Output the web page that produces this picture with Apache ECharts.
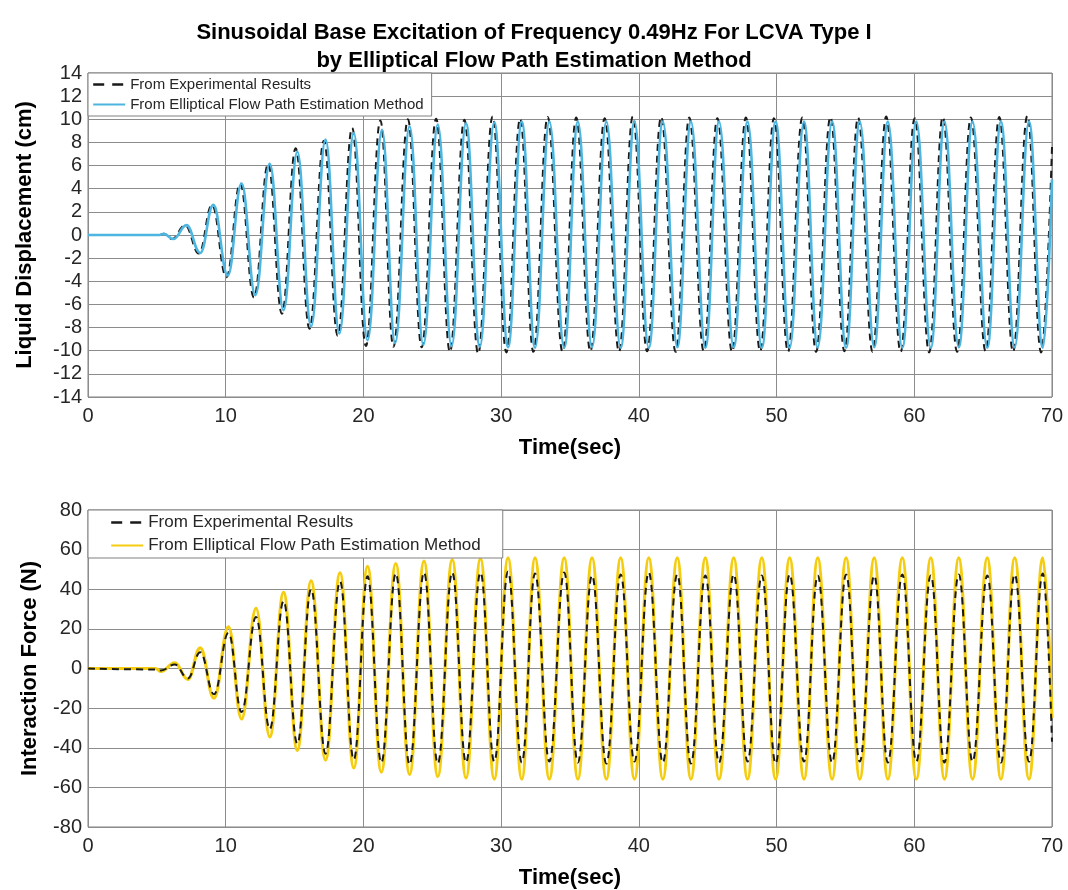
<!DOCTYPE html>
<html><head><meta charset="utf-8">
<script src="https://cdn.jsdelivr.net/npm/echarts@6/dist/echarts.min.js"></script>
<style>html,body{margin:0;padding:0;background:#fff}#c{width:1068px;height:890px}</style>
</head><body><div id="c"></div>
<script>
const chartTitle = 'Sinusoidal Base Excitation of Frequency 0.49Hz For LCVA Type I\nby Elliptical Flow Path Estimation Method';
const xName = 'Time(sec)';
const yNameTop = 'Liquid Displacement (cm)';
const yNameBottom = 'Interaction Force (N)';
const nameExp = 'From Experimental Results';
const nameEst = 'From Elliptical Flow Path Estimation Method';

// [time (s), displacement (cm)] extrema
const dispExp = [[0,0],[5.2,0],[5.5,0.1],[6.1,-0.35],[7.05,0.85],[8.05,-1.6],[9.0,2.6],[10.05,-3.65],[11.05,4.45],[12.05,-5.4],[13.08,6.15],[14.08,-6.8],[15.08,7.5],[16.08,-8.1],[17.13,8.15],[18.13,-8.7],[19.18,9.25],[20.18,-9.6],[21.23,9.9],[22.18,-9.65],[23.23,10.0],[24.23,-9.7],[25.28,10.05],[26.28,-10.1],[27.33,9.95],[28.33,-10.25],[29.38,10.25],[30.38,-10.15],[31.38,10.05],[32.34,-10.1],[33.38,10.2],[34.46,-10.1],[35.45,10.15],[36.48,-10.05],[37.52,10.1],[38.56,-10.1],[39.56,10.25],[40.6,-10.05],[41.62,10.2],[42.67,-10.1],[43.66,10.15],[44.71,-10.05],[45.7,10.1],[46.77,-10.1],[47.77,10.15],[48.81,-10.05],[49.81,10.1],[50.83,-10.1],[51.87,10.15],[52.87,-10.1],[53.91,10.2],[54.93,-10.05],[55.92,10.15],[56.97,-10.1],[57.96,10.25],[59.01,-10.1],[60.03,10.1],[61.08,-10.15],[62.07,10.2],[63.11,-10.1],[64.11,10.15],[65.18,-10.05],[66.17,10.2],[67.17,-10.1],[68.21,10.3],[69.21,-10.15],[70,7.6]];
const dispEst = [[0,0],[5.2,0],[5.5,0.1],[6.2,-0.35],[7.15,0.85],[8.15,-1.55],[9.1,2.6],[10.15,-3.5],[11.15,4.45],[12.15,-5.2],[13.2,6.15],[14.2,-6.5],[15.2,7.2],[16.2,-7.9],[17.25,8.25],[18.25,-8.5],[19.3,8.8],[20.3,-9.1],[21.35,9.1],[22.3,-9.35],[23.35,9.4],[24.35,-9.5],[25.4,9.55],[26.4,-9.6],[27.45,9.65],[28.45,-9.65],[29.5,9.75],[30.5,-9.7],[31.5,9.8],[32.46,-9.75],[33.5,9.8],[34.58,-9.75],[35.57,9.8],[36.6,-9.7],[37.64,9.8],[38.68,-9.75],[39.68,9.8],[40.72,-9.75],[41.74,9.8],[42.79,-9.7],[43.78,9.8],[44.83,-9.75],[45.82,9.8],[46.89,-9.7],[47.89,9.8],[48.93,-9.75],[49.93,9.8],[50.95,-9.75],[51.99,9.8],[52.99,-9.7],[54.03,9.8],[55.05,-9.75],[56.04,9.8],[57.09,-9.7],[58.08,9.8],[59.13,-9.75],[60.15,9.8],[61.2,-9.75],[62.19,9.8],[63.23,-9.7],[64.23,9.8],[65.3,-9.75],[66.29,9.8],[67.29,-9.7],[68.33,9.8],[69.33,-9.75],[70,4.8]];

// [time (s), force (N)] extrema
const forceExp = [[0,0],[4.9,-0.5],[5.3,-1],[6.3,2],[7.25,-5],[8.15,8.2],[9.15,-13],[10.2,18],[11.15,-22],[12.2,26],[13.2,-30.5],[14.2,34],[15.2,-38],[16.2,40],[17.25,-43],[18.3,44],[19.3,-46],[20.3,46.5],[21.3,-47.5],[22.35,48],[23.35,-48.5],[24.4,48.5],[25.4,-48],[26.45,48.5],[27.45,-47.5],[28.5,48.5],[29.5,-47],[30.5,49],[31.5,-47.5],[32.46,48],[33.5,-47],[34.58,48.5],[35.57,-47.5],[36.6,47],[37.64,-48],[38.68,47.5],[39.68,-47],[40.72,48.5],[41.74,-47.5],[42.79,47.5],[43.78,-48],[44.83,47],[45.82,-47.5],[46.89,47.5],[47.89,-47],[48.93,47],[49.93,-48],[50.95,47.5],[51.99,-47],[52.99,47],[54.03,-47.5],[55.05,47.5],[56.04,-47],[57.09,47],[58.08,-47.5],[59.13,47.5],[60.15,-47],[61.2,47],[62.19,-47.5],[63.23,47.5],[64.23,-47],[65.3,47],[66.29,-47.5],[67.29,47.5],[68.33,-47],[69.33,48],[70,-37]];
const forceEst = [[0,0],[4.9,0],[5.3,-1.5],[6.3,2.8],[7.25,-5.5],[8.15,10.4],[9.15,-15],[10.2,21],[11.15,-25.5],[12.2,30.3],[13.2,-34.5],[14.2,38.4],[15.2,-41.3],[16.2,44.2],[17.25,-46.2],[18.3,48.3],[19.3,-50.2],[20.3,51.5],[21.3,-52.3],[22.35,53],[23.35,-53.5],[24.4,54.2],[25.4,-54.5],[26.45,55],[27.45,-55.2],[28.5,55.5],[29.5,-55.8],[30.5,55.8],[31.5,-55.8],[32.46,55.8],[33.5,-55.8],[34.58,55.8],[35.57,-55.8],[36.6,55.8],[37.64,-55.8],[38.68,55.8],[39.68,-55.8],[40.72,55.8],[41.74,-55.8],[42.79,55.8],[43.78,-55.8],[44.83,55.8],[45.82,-55.8],[46.89,55.8],[47.89,-55.8],[48.93,55.8],[49.93,-55.8],[50.95,55.8],[51.99,-55.8],[52.99,55.8],[54.03,-55.8],[55.05,55.8],[56.04,-55.8],[57.09,55.8],[58.08,-55.8],[59.13,55.8],[60.15,-55.8],[61.2,55.8],[62.19,-55.8],[63.23,55.8],[64.23,-55.8],[65.3,55.8],[66.29,-55.8],[67.29,55.8],[68.33,-55.8],[69.33,55.8],[70,-25]];

const xRange = [0, 70, 10];
const yRangeTop = [-14, 14, 2];
const yRangeBottom = [-80, 80, 20];

const FONT = '"Liberation Sans", Arial, Helvetica, sans-serif';
const gridLine = { lineStyle: { color: '#8c8c8c', width: 1 } };
const tickLabel = { fontSize: 20, color: '#262626', fontFamily: FONT };
const nameStyle = { fontSize: 22, fontWeight: 'bold', color: '#000', fontFamily: FONT };

function xAxis(gi) {
  return {
    type: 'value', gridIndex: gi, min: xRange[0], max: xRange[1], interval: xRange[2],
    axisLine: { show: false }, axisTick: { show: false },
    splitLine: gridLine,
    axisLabel: Object.assign({ margin: 9 }, tickLabel),
    name: xName, nameLocation: 'middle', nameGap: 40, nameTextStyle: nameStyle
  };
}
function yAxis(gi, r, name, gap) {
  return {
    type: 'value', gridIndex: gi, min: r[0], max: r[1], interval: r[2],
    axisLine: { show: false }, axisTick: { show: false },
    splitLine: gridLine,
    axisLabel: Object.assign({ margin: 6 }, tickLabel),
    name: name, nameLocation: 'middle', nameGap: gap, nameRotate: 90, nameTextStyle: nameStyle
  };
}
function line(name, data, gi, color, width, dashed, z) {
  return {
    type: 'line', name: name, xAxisIndex: gi, yAxisIndex: gi, data: data,
    symbol: 'none', showSymbol: false, smooth: 0.42, smoothMonotone: 'x',
    lineStyle: { color: color, width: width, type: dashed ? [7, 5] : 'solid' },
    itemStyle: { color: color }, z: z, animation: false
  };
}
const legendCommon = {
  orient: 'vertical', left: 88,
  backgroundColor: '#fff', borderColor: '#808080', borderWidth: 1, borderRadius: 0,
  itemWidth: 32, itemStyle: { opacity: 0, borderWidth: 0 }
};
const legendDash = { type: [11, 8], width: 2.4 };

const chart = echarts.init(document.getElementById('c'), null, { renderer: 'canvas' });
chart.setOption({
  backgroundColor: '#fff',
  animation: false,
  title: {
    text: chartTitle, left: 'center', top: 14,
    textStyle: { fontSize: 22, fontWeight: 'bold', color: '#000', fontFamily: FONT, lineHeight: 28 }
  },
  grid: [
    { left: 88, right: 16, top: 73, height: 324, show: true, borderColor: '#808080', borderWidth: 1, backgroundColor: '#fff' },
    { left: 88, right: 16, top: 510, height: 323, show: true, borderColor: '#808080', borderWidth: 1, backgroundColor: '#fff' }
  ],
  legend: [
    Object.assign({}, legendCommon, {
      data: [{ name: nameExp, lineStyle: legendDash }, nameEst], top: 73,
      padding: [4, 8, 4, 4], itemGap: 5, itemHeight: 14,
      textStyle: { fontSize: 15, color: '#262626', fontFamily: FONT }
    }),
    Object.assign({}, legendCommon, {
      data: [{ name: nameExp + ' ', lineStyle: legendDash }, nameEst + ' '], top: 510,
      formatter: n => n.trim(),
      padding: [4, 22, 4, 22], itemGap: 6, itemHeight: 16,
      textStyle: { fontSize: 17, color: '#262626', fontFamily: FONT }
    })
  ],
  xAxis: [xAxis(0), xAxis(1)],
  yAxis: [yAxis(0, yRangeTop, yNameTop, 52), yAxis(1, yRangeBottom, yNameBottom, 47)],
  series: [
    line(nameExp, dispExp, 0, '#1a1a1a', 2, true, 3),
    line(nameEst, dispEst, 0, '#4cb5e0', 2.6, false, 4),
    line(nameExp + ' ', forceExp, 1, '#1a1a1a', 2, true, 4),
    line(nameEst + ' ', forceEst, 1, '#f5cd10', 3.2, false, 3)
  ]
});
</script>
</body></html>
